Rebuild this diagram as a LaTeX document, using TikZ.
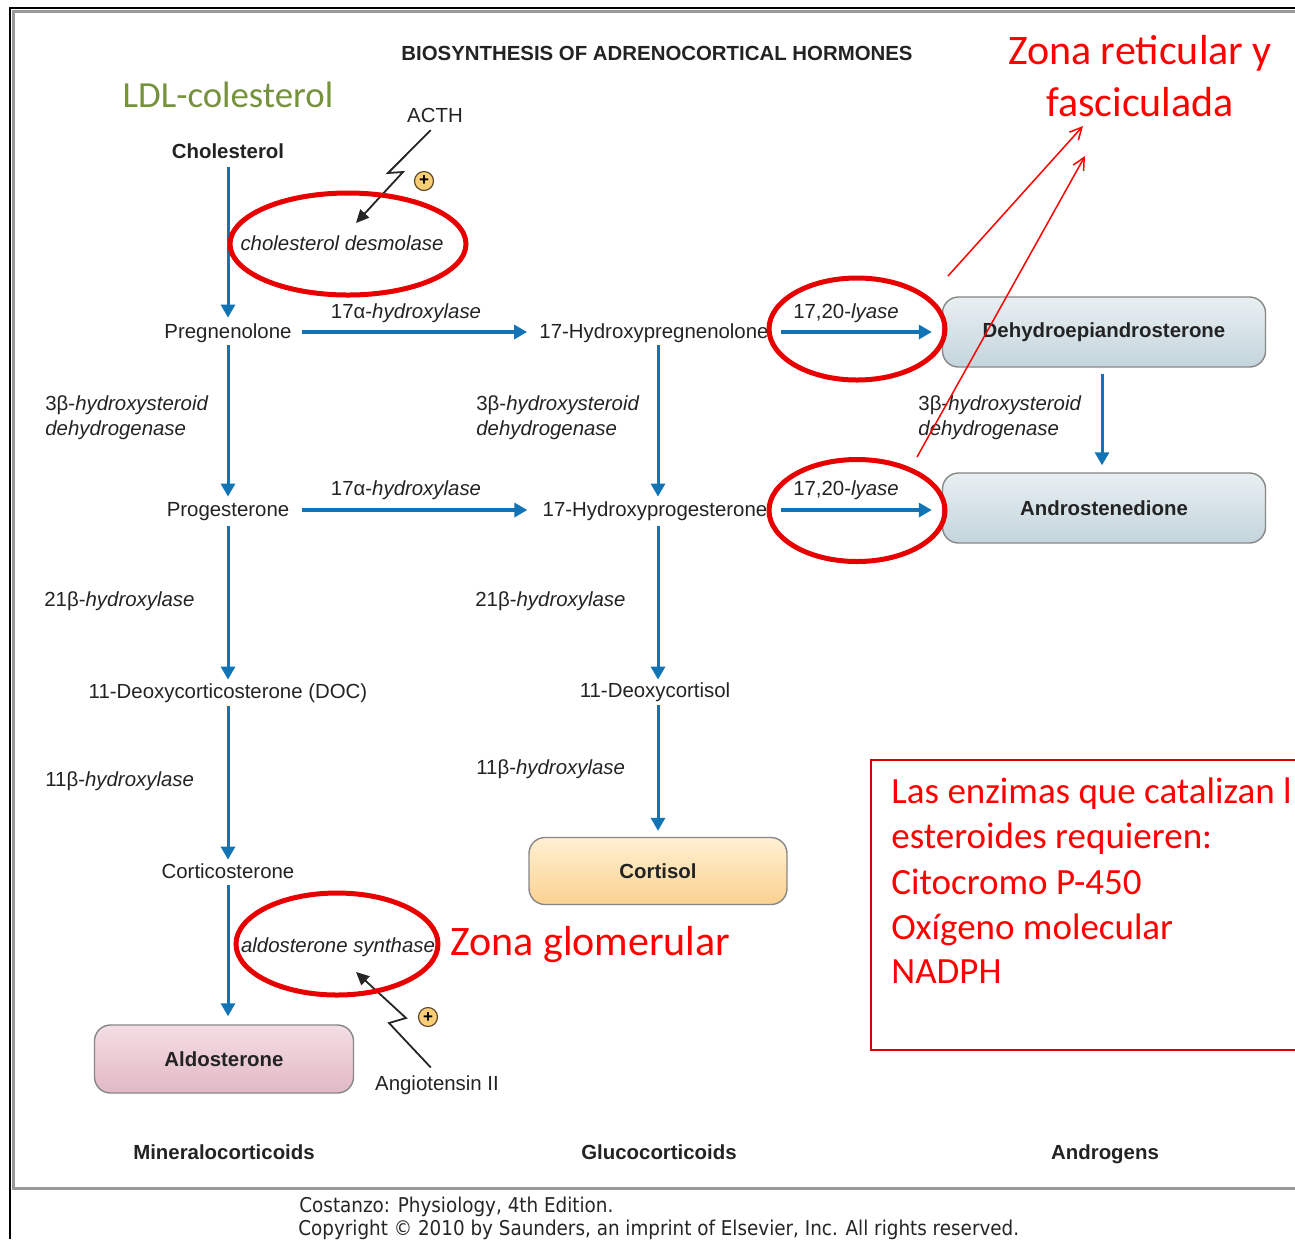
\documentclass[tikz,border=0pt]{standalone}
\usepackage{fontspec}
\setmainfont{Liberation Sans}
\newfontfamily\calibri{Carlito}
\newfontfamily\footfont{DejaVu Sans Condensed}
\usetikzlibrary{arrows.meta,shapes.geometric}
\definecolor{txt}{RGB}{35,35,35}
\definecolor{flow}{RGB}{18,116,180}
\definecolor{redann}{RGB}{255,0,0}
\definecolor{ringred}{RGB}{232,0,0}
\definecolor{ldlgreen}{RGB}{118,146,60}
\definecolor{boxline}{RGB}{135,135,135}
\definecolor{bluetop}{RGB}{232,239,242}
\definecolor{bluebot}{RGB}{196,213,221}
\definecolor{orgtop}{RGB}{255,240,210}
\definecolor{orgbot}{RGB}{251,210,145}
\definecolor{pinktop}{RGB}{244,222,228}
\definecolor{pinkbot}{RGB}{226,184,197}
\definecolor{plusfill}{RGB}{250,205,120}
\definecolor{plusline}{RGB}{95,75,40}
\tikzset{
 chem/.style={inner sep=0pt, text=txt, font=\fontsize{10.2}{12}\selectfont, text height=8pt, text depth=1.5pt},
 enz/.style={inner sep=0pt, text=txt, font=\fontsize{10.2}{12.5}\selectfont},
 head/.style={inner sep=0pt, text=txt, font=\fontsize{10.2}{12}\selectfont\bfseries, text height=8pt, text depth=1.5pt},
 prod/.style={draw=boxline, line width=0.7pt, rounded corners=8pt, minimum width=161.5pt, minimum height=35pt, inner sep=0pt, text=txt, font=\fontsize{10.2}{12}\selectfont\bfseries},
 blueprod/.style={prod, top color=bluetop, bottom color=bluebot},
 orgprod/.style={prod, top color=orgtop, bottom color=orgbot, minimum width=129pt, minimum height=33.5pt},
 pinkprod/.style={prod, top color=pinktop, bottom color=pinkbot, minimum width=129.5pt, minimum height=34pt},
 harrow/.style={draw=flow, line width=2pt, -{Triangle[width=7pt,length=6.5pt]}},
 varrow/.style={draw=flow, line width=1.5pt, -{Triangle[width=7pt,length=6.5pt]}},
 bolt/.style={draw=black!85, line width=0.9pt, -{Triangle[width=6pt,length=6.5pt]}},
 plusmark/.style={circle, draw=plusline, line width=0.6pt, fill=plusfill, minimum size=9.5pt, inner sep=0pt, font=\fontsize{8.5}{8.5}\selectfont\bfseries},
 ring/.style={draw=ringred, line width=2.5pt},
 redline/.style={draw=redann, line width=0.75pt, -{Straight Barb[length=6pt,width=6pt]}},
 big/.style={text=redann, font=\calibri\fontsize{21}{26}\selectfont, inner sep=0pt},
 boxtxt/.style={text=redann, font=\calibri\fontsize{18.5}{22.5}\selectfont, inner sep=0pt},
 ldl/.style={text=ldlgreen, font=\calibri\fontsize{18.4}{22}\selectfont, inner sep=0pt},
 foot/.style={text=black!85, font=\footfont\fontsize{10.2}{12}\selectfont, inner sep=0pt}
}
\begin{document}
\begin{tikzpicture}[x=0.5pt,y=-0.5pt]
\useasboundingbox (0,0) rectangle (1295,1239);
\clip (0,0) rectangle (1295,1239);
\fill[white] (0,0) rectangle (1295,1239);
% frame
\draw[black, line width=1pt] (9.5,1239) -- (9.5,7.5) -- (1300,7.5);
\draw[black!40, line width=1.5pt] (1300,11.5) -- (13,11.5) -- (13,1188) -- (1300,1188);

% texts and nodes
\node[head] (title) at (657,54) {BIOSYNTHESIS OF ADRENOCORTICAL HORMONES};
\node[ldl] (ldl) at (228,95) {LDL-colesterol};
\node[chem] (acth) at (435,116) {ACTH};
\node[chem, font=\fontsize{10.2}{12}\selectfont\bfseries] (chol) at (228,152) {Cholesterol};
\node[enz] (desm) at (342,243) {\textit{cholesterol desmolase}};
\node[chem] (preg) at (228,332) {Pregnenolone};
\node[chem] (hpreg) at (654,332) {17-Hydroxypregnenolone};
\node[blueprod] (dhea) at (1104,332) {Dehydroepiandrosterone};
\node[enz] (hyd1) at (406,313) {17α-\textit{hydroxylase}};
\node[enz] (lya1) at (846,313) {17,20-\textit{lyase}};
\node[enz, anchor=west, align=left] (hsd1) at (45,418) {3β-\textit{hydroxysteroid}\\\textit{dehydrogenase}};
\node[enz, anchor=west, align=left] (hsd2) at (476,418) {3β-\textit{hydroxysteroid}\\\textit{dehydrogenase}};
\node[enz, anchor=west, align=left] (hsd3) at (918,418) {3β-\textit{hydroxysteroid}\\\textit{dehydrogenase}};
\node[chem] (prog) at (228,510) {Progesterone};
\node[chem] (hprog) at (655,510) {17-Hydroxyprogesterone};
\node[blueprod] (andro) at (1104,508) {Androstenedione};
\node[enz] (hyd2) at (406,490) {17α-\textit{hydroxylase}};
\node[enz] (lya2) at (846,490) {17,20-\textit{lyase}};
\node[enz, anchor=west] (h21a) at (44,601) {21β-\textit{hydroxylase}};
\node[enz, anchor=west] (h21b) at (475,601) {21β-\textit{hydroxylase}};
\node[chem] (doc) at (228,692) {11-Deoxycorticosterone (DOC)};
\node[chem] (dcort) at (655,691) {11-Deoxycortisol};
\node[enz, anchor=west] (h11a) at (45,781) {11β-\textit{hydroxylase}};
\node[enz, anchor=west] (h11b) at (476,769) {11β-\textit{hydroxylase}};
\node[orgprod] (cort) at (658,871) {Cortisol};
\node[chem] (corticos) at (228,872) {Corticosterone};
\node[enz] (aldsyn) at (338,947) {\textit{aldosterone synthase}};
\node[pinkprod] (aldo) at (224,1059) {Aldosterone};
\node[chem] (ang) at (437,1084) {Angiotensin II};
\node[head] (mineral) at (224,1153) {Mineralocorticoids};
\node[head] (gluco) at (659,1153) {Glucocorticoids};
\node[head] (androg) at (1105,1153) {Androgens};

% pathway arrows
\draw[varrow, shorten <=2.75pt, shorten >=2.25pt] (chol.south) -- (preg.north);
\draw[harrow, shorten <=5pt, shorten >=6pt] (preg.east) -- (hpreg.west);
\draw[harrow, shorten <=6pt, shorten >=5pt] (hpreg.east) -- (hpreg.east -| dhea.west);
\draw[varrow, shorten <=1.75pt, shorten >=1.75pt] (preg.south) -- (prog.north);
\draw[varrow, shorten <=1.75pt, shorten >=1.75pt] (hpreg.south -| cort.north) -- (hprog.north -| cort.north);
\draw[varrow, shorten <=3pt, shorten >=3.5pt] ([xshift=-1pt]dhea.south) -- ([xshift=-1pt]andro.north);
\draw[harrow, shorten <=6pt, shorten >=7.5pt] (prog.east) -- (hprog.west);
\draw[harrow, shorten <=6.5pt, shorten >=5pt] (hprog.east) -- (hprog.east -| andro.west);
\draw[varrow, shorten <=3.25pt, shorten >=1.25pt] (prog.south) -- (doc.north);
\draw[varrow, shorten <=3.25pt, shorten >=0.75pt] (hprog.south -| cort.north) -- (dcort.north -| cort.north);
\draw[varrow, shorten <=2.25pt, shorten >=1.25pt] (doc.south) -- (corticos.north);
\draw[varrow, shorten <=2.25pt, shorten >=3pt] (dcort.south -| cort.north) -- (cort.north);
\draw[varrow, shorten <=1.75pt, shorten >=4pt] (corticos.south) -- (corticos.south |- aldo.north);

% stimulation bolts
\coordinate (zA) at (388,173);
\coordinate (zB) at (403,172);
\coordinate (acthtip) at (356,223);
\draw[bolt, shorten <=3pt] (acth.south) -- (zA) -- (zB) -- (acthtip);
\node[plusmark] (plus1) at (424,181) {+};
\coordinate (zC) at (389,1023);
\coordinate (zD) at (406,1018);
\coordinate (angtip) at (356,972);
\draw[bolt, shorten <=4.5pt] (ang.north) -- (zC) -- (zD) -- (angtip);
\node[plusmark] (plus2) at (428,1017) {+};

% red annotations
\draw[ring] (348,244) ellipse [x radius=59pt, y radius=25.5pt];
\draw[ring] (337,944) ellipse [x radius=50.5pt, y radius=25.5pt];
\draw[ring] (857,329) ellipse [x radius=44pt, y radius=25.5pt];
\draw[ring] (857,510.5) ellipse [x radius=44pt, y radius=25.5pt];

\node[big, align=center] (zr) at (1140,76) {Zona reticular y\\fasciculada};
\node[big, anchor=west] (zg) at (450,945) {Zona glomerular};
\coordinate (r1start) at (948,276);
\coordinate (r1tip) at (1083,126);
\coordinate (r2start) at (917,457);
\coordinate (r2tip) at (1085,156);
\draw[redline] (r1start) -- (r1tip);
\draw[redline] (r2start) -- (r2tip);

\draw[draw=red!85!black, line width=0.75pt] (871,760) rectangle (1310,1050);
\node[boxtxt, anchor=base west] (b1) at (891,803) {Las enzimas que catalizan l};
\node[boxtxt, anchor=base west] (b2) at (891,848) {esteroides requieren:};
\node[boxtxt, anchor=base west] (b3) at (891,894) {Citocromo P-450};
\node[boxtxt, anchor=base west] (b4) at (891,939) {Oxígeno molecular};
\node[boxtxt, anchor=base west] (b5) at (891,983) {NADPH};

% footer
\node[foot, anchor=west] (f1) at (299,1207) {Costanzo: Physiology, 4th Edition.};
\node[foot, anchor=west] (f2) at (298,1230) {Copyright © 2010 by Saunders, an imprint of Elsevier, Inc. All rights reserved.};
\end{tikzpicture}
\end{document}
